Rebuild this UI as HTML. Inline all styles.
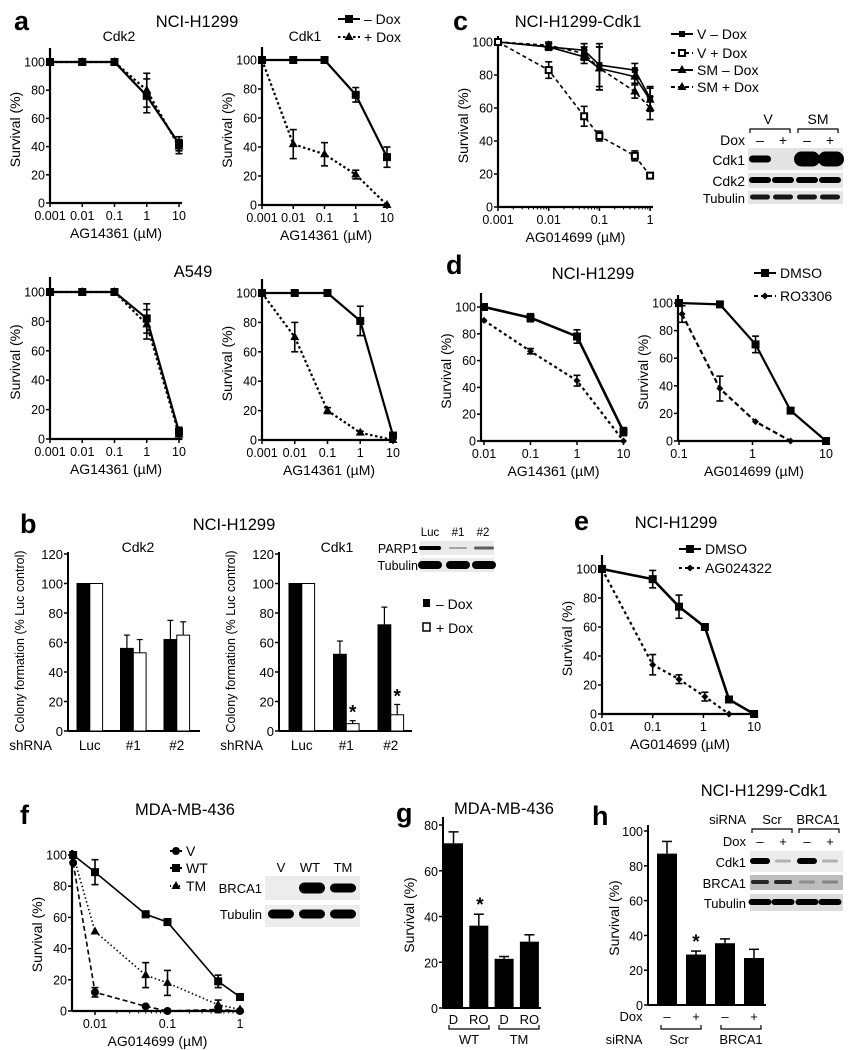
<!DOCTYPE html>
<html><head><meta charset="utf-8">
<style>
html,body{margin:0;padding:0;background:#fff;}
svg{display:block;font-family:"Liberation Sans",Arial,sans-serif;}
</style></head>
<body>
<svg id="fig" width="862" height="1050" viewBox="0 0 862 1050" xmlns="http://www.w3.org/2000/svg"></svg>
<script>
// ---------- DATA ----------
const aDoses=[0.001,0.01,0.1,1,10];
const aLogTicks=["0.001","0.01","0.1","1","10"];
const survTicks=[0,20,40,60,80,100];
const aCdk2Minus=[100,100,100,76,42];
const aCdk2Plus=[100,100,100,80,40];
const aCdk2Err=[0,0,0,12,5];
const aCdk1Minus=[100,100,100,76,33];
const aCdk1Plus=[100,42,35,21,0];
const aCdk1ErrM=[0,0,0,5,7];
const aCdk1ErrP=[0,10,8,3,0];
const a549Cdk2Minus=[100,100,100,82,5];
const a549Cdk2Plus=[100,100,100,78,3];
const a549Cdk2Err=[0,0,0,10,3];
const a549Cdk1Minus=[100,100,100,81,3];
const a549Cdk1Plus=[100,70,20,5,0];
const a549Cdk1ErrM=[0,0,0,10,2];
const a549Cdk1ErrP=[0,10,2,1,0];

const cDoses=[0.001,0.01,0.05,0.1,0.5,1];
const cTicks=["0.001","0.01","0.1","1"];
const cTickVals=[0.001,0.01,0.1,1];
const cVMinus=[100,97,95,86,83,66];
const cVPlus=[100,83,55,43,31,19];
const cSMMinus=[100,97,91,84,79,65];
const cSMPlus=[100,98,93,84,70,60];
const cErr=[0,2,4,13,4,7];
const cErrVP=[0,5,6,3,3,1];

const bCats=["Luc","#1","#2"];
const bTicks=[0,20,40,60,80,100,120];
const bCdk2Minus=[100,56,62];
const bCdk2Plus=[100,53,65];
const bCdk2ErrM=[0,9,13];
const bCdk2ErrP=[0,9,9];
const bCdk1Minus=[100,52,72];
const bCdk1Plus=[100,5,11];
const bCdk1ErrM=[0,9,12];
const bCdk1ErrP=[0,2,7];

const dLDoses=[0.01,0.1,1,10];
const dLDmso=[100,92,78,7];
const dLRo=[90,67,45,0];
const dLErrD=[0,3,5,3];
const dLErrR=[0,2,4,0];
const dLTicks=["0.01","0.1","1","10"];
const dLTickVals=[0.01,0.1,1,10];
const dRDmsoDoses=[0.1,0.36,1.1,3.3,10];
const dRDmso=[100,99,70,22,0];
const dRErrD=[0,0,6,2,0];
const dRRoDoses=[0.11,0.36,1.1,3.3];
const dRRo=[92,38,14,0];
const dRErrR=[6,9,0,0];
const dRTicks=["0.1","1","10"];
const dRTickVals=[0.1,1,10];

const eDmsoDoses=[0.01,0.1,0.33,1.07,3.2,10];
const eDmso=[100,93,74,60,10,0];
const eErrD=[0,6,8,0,0,0];
const eAgDoses=[0.01,0.1,0.33,1.07,3.2];
const eAg=[100,34,24,12,0];
const eErrA=[0,7,3,3,0];
const eTicks=["0.01","0.1","1","10"];
const eTickVals=[0.01,0.1,1,10];

const fDoses=[0.005,0.01,0.05,0.1,0.5,1];
const fV=[95,12,3,0,1,0];
const fWT=[100,89,62,57,19,9];
const fTM=[100,51,23,18,4,1];
const fErrV=[0,3,0,0,2,0];
const fErrWT=[0,8,2,2,4,0];
const fErrTM=[0,0,8,8,3,0];
const fTicks=["0.01","0.1","1"];
const fTickVals=[0.01,0.1,1];

const gCats=["D","RO","D","RO"];
const gVals=[72,36,21.5,29];
const gErr=[5,5,1,3];
const gTicks=[0,20,40,60,80];

const hVals=[87,29,35.5,27];
const hErr=[7,2,2.5,5];
const hDox=["–","+","–","+"];
const hTicks=[0,20,40,60,80,100];

// ---------- HELPERS ----------
const NS='http://www.w3.org/2000/svg';
const svg=document.getElementById('fig');
const TK=12.5, AT=14, TT=16.5, ST=14, PL=27;
function mk(tag,name,parent){
  const e=document.createElementNS(NS,tag);
  
  
  (parent||svg).appendChild(e);
  return e;
}
function set(e,o){for(const k in o)e.setAttribute(k,o[k]);return e;}
function txt(x,y,s,size,anchor,name,weight,rot){
  const t=mk('text',name);
  set(t,{x:x,y:y,'font-size':size,'text-anchor':anchor||'middle',fill:'#000'});
  if(weight)t.setAttribute('font-weight',weight);
  if(rot)t.setAttribute('transform','rotate(-90 '+x+' '+y+')');
  t.textContent=s;return t;
}
function line(x1,y1,x2,y2,name,w,dash){
  const l=mk('line',name);
  set(l,{x1:x1,y1:y1,x2:x2,y2:y2,stroke:'#000','stroke-width':w||1.5});
  if(dash)l.setAttribute('stroke-dasharray',dash);
  return l;
}
function marker(x,y,type,name){
  let m;
  if(type==='sq'){m=mk('rect',name);set(m,{x:x-4,y:y-4,width:8,height:8,fill:'#000'});}
  else if(type==='osq'){m=mk('rect',name);set(m,{x:x-3,y:y-3,width:6,height:6,fill:'#fff',stroke:'#000','stroke-width':2});}
  else if(type==='tri'){m=mk('polygon',name);set(m,{points:(x)+','+(y-5)+' '+(x-4.5)+','+(y+3)+' '+(x+4.5)+','+(y+3),fill:'#000'});}
  else if(type==='dia'){m=mk('polygon',name);set(m,{points:x+','+(y-3.5)+' '+(x+3.5)+','+y+' '+x+','+(y+3.5)+' '+(x-3.5)+','+y,fill:'#000'});}
  else if(type==='circ'){m=mk('circle',name);set(m,{cx:x,cy:y,r:4,fill:'#000'});}
  else if(type==='sm'){m=mk('rect',name);set(m,{x:x-3,y:y-3,width:6,height:6,fill:'#000'});}
  return m;
}
function logAxes(p,xv,xl,yv,ytitle,xtitle,minor){
  const sx=v=>p.px0+(Math.log10(v)-p.l0)*p.dec;
  const sy=v=>p.yb-v*(p.yb-p.y100)/100;
  line(p.ax,p.top,p.ax,p.yb,p.id+'-y-axis',2.2);
  line(p.ax,p.yb,p.xr,p.yb,p.id+'-x-axis',2.2);
  yv.forEach(v=>{line(p.ax-4,sy(v),p.ax,sy(v),p.id+'-y-tick',1.5);txt(p.ax-5,sy(v)+4.5,String(v),TK,'end',p.id+'-y-tick-label');});
  xv.forEach((v,i)=>{line(sx(v),p.yb,sx(v),p.yb+4,p.id+'-x-tick',1.5);txt(sx(v),p.yb+17,xl[i],TK,'middle',p.id+'-x-tick-label');});
  if(minor){
    for(let d=Math.floor(p.l0);d<Math.log10(xv[xv.length-1]);d++){
      for(let k=2;k<10;k++){const xx=sx(k*Math.pow(10,d));if(xx>p.ax&&xx<p.xr)line(xx,p.yb,xx,p.yb+2.5,p.id+'-x-minor-tick',1);}
    }
  }
  if(ytitle)txt(p.ax-30,(p.top+p.yb)/2+4,ytitle,AT,'middle',p.id+'-y-axis-title',null,true);
  if(xtitle)txt((p.ax+p.xr)/2,p.yb+35,xtitle,AT,'middle',p.id+'-x-axis-title');
  return {sx:sx,sy:sy};
}
function series(s,xs,ys,errs,mtype,dash,name,w){
  const pts=xs.map((x,i)=>s.sx(x)+','+s.sy(ys[i])).join(' ');
  const pl=mk('polyline',name+'-line');
  set(pl,{points:pts,fill:'none',stroke:'#000','stroke-width':w||2.2});
  if(dash)pl.setAttribute('stroke-dasharray',dash);
  xs.forEach((x,i)=>{
    const e=errs?errs[i]:0;
    if(e>0){const X=s.sx(x);line(X,s.sy(ys[i]+e),X,s.sy(ys[i]-e),name+'-error-bar',1.6);
      line(X-3.5,s.sy(ys[i]+e),X+3.5,s.sy(ys[i]+e),name+'-error-cap',1.6);
      line(X-3.5,s.sy(ys[i]-e),X+3.5,s.sy(ys[i]-e),name+'-error-cap',1.6);}
    marker(s.sx(x),s.sy(ys[i]),mtype,name+'-point');
  });
}
function legendEntry(x,y,len,mtype,dash,label,name){
  line(x,y,x+len,y,name+'-line',2,dash);
  marker(x+len/2,y,mtype,name+'-marker');
  txt(x+len+4,y+5,label,AT,'start',name+'-label');
}
function blot(x,y,w,h,bg,name){const r=mk('rect',name);set(r,{x:x,y:y,width:w,height:h,fill:bg});return r;}
function band(cx,cy,w,h,op,name){const r=mk('rect',name);set(r,{x:cx-w/2,y:cy-h/2,width:w,height:h,rx:h/2,ry:h/2,fill:'#000','fill-opacity':op});return r;}
function bracket(x1,x2,y,name){const p=mk('path',name);set(p,{d:'M'+x1+' '+(y+4)+' V'+y+' H'+x2+' V'+(y+4),fill:'none',stroke:'#000','stroke-width':1.2});}
function bracketUp(x1,x2,y,name){const p=mk('path',name);set(p,{d:'M'+x1+' '+(y-4)+' V'+y+' H'+x2+' V'+(y-4),fill:'none',stroke:'#000','stroke-width':1.2});}

// ---------- PANEL A ----------
txt(14,30,'a',PL,'start','panel-a-label','bold');
txt(197,27,'NCI-H1299',TT,'middle','panel-a-title');
txt(119,41,'Cdk2',ST,'middle','panel-a-cdk2-title');
txt(305,41,'Cdk1',ST,'middle','panel-a-cdk1-title');
legendEntry(338,19,22,'sq',null,'– Dox','legend-minus-dox');
legendEntry(338,37,22,'tri','2.5,2.5','+ Dox','legend-plus-dox');
let p,s;
p={id:'a-cdk2',px0:50,l0:-3,dec:32.25,yb:203,y100:62,top:48,ax:50,xr:182};
s=logAxes(p,aDoses,aLogTicks,survTicks,'Survival (%)','AG14361 (µM)');
series(s,aDoses,aCdk2Plus,aCdk2Err,'tri','2.5,2.5','a-cdk2-plus-dox');
series(s,aDoses,aCdk2Minus,aCdk2Err,'sq',null,'a-cdk2-minus-dox');
p={id:'a-cdk1',px0:262,l0:-3,dec:31.25,yb:205,y100:60,top:47,ax:262,xr:390};
s=logAxes(p,aDoses,aLogTicks,survTicks,'Survival (%)','AG14361 (µM)');
series(s,aDoses,aCdk1Plus,aCdk1ErrP,'tri','2.5,2.5','a-cdk1-plus-dox');
series(s,aDoses,aCdk1Minus,aCdk1ErrM,'sq',null,'a-cdk1-minus-dox');
txt(193,277,'A549',TT,'middle','panel-a-a549-title');
p={id:'a549-cdk2',px0:50,l0:-3,dec:32.25,yb:439,y100:292,top:277,ax:50,xr:182};
s=logAxes(p,aDoses,aLogTicks,survTicks,'Survival (%)','AG14361 (µM)');
series(s,aDoses,a549Cdk2Plus,a549Cdk2Err,'tri','2.5,2.5','a549-cdk2-plus-dox');
series(s,aDoses,a549Cdk2Minus,a549Cdk2Err,'sq',null,'a549-cdk2-minus-dox');
p={id:'a549-cdk1',px0:262,l0:-3,dec:32.75,yb:440,y100:293,top:279,ax:262,xr:396};
s=logAxes(p,aDoses,aLogTicks,survTicks,'Survival (%)','AG14361 (µM)');
series(s,aDoses,a549Cdk1Plus,a549Cdk1ErrP,'tri','2.5,2.5','a549-cdk1-plus-dox');
series(s,aDoses,a549Cdk1Minus,a549Cdk1ErrM,'sq',null,'a549-cdk1-minus-dox');

// ---------- PANEL C ----------
txt(453,30,'c',PL,'start','panel-c-label','bold');
txt(578,27,'NCI-H1299-Cdk1',TT,'middle','panel-c-title');
p={id:'c',px0:498,l0:-3,dec:50.7,yb:207,y100:42,top:36,ax:498,xr:653};
s=logAxes(p,cTickVals,cTicks,survTicks,'Survival (%)','AG014699 (µM)',true);
series(s,cDoses,cSMPlus,cErr,'tri','4,3','c-sm-plus-dox',1.6);
series(s,cDoses,cSMMinus,cErr,'tri',null,'c-sm-minus-dox',1.6);
series(s,cDoses,cVMinus,cErr,'sm',null,'c-v-minus-dox',1.6);
series(s,cDoses,cVPlus,cErrVP,'osq','4,3','c-v-plus-dox',1.6);
legendEntry(671,34,22,'sm',null,'V – Dox','legend-v-minus-dox');
legendEntry(671,53,22,'osq','4,3','V + Dox','legend-v-plus-dox');
legendEntry(671,70,22,'tri',null,'SM – Dox','legend-sm-minus-dox');
legendEntry(671,87,22,'tri','4,3','SM + Dox','legend-sm-plus-dox');
txt(768,124,'V',ST,'middle','c-blot-v-label');
txt(818,124,'SM',ST,'middle','c-blot-sm-label');
bracket(750,790,129,'c-blot-v-bracket');
bracket(798,838,129,'c-blot-sm-bracket');
txt(745,145,'Dox',ST,'end','c-blot-dox-label');
[760,783,807,830].forEach((x,i)=>txt(x,145,i%2?'+':'–',ST,'middle','c-blot-dox-sign'));
txt(745,165,'Cdk1',ST,'end','c-blot-cdk1-label');
txt(745,186,'Cdk2',ST,'end','c-blot-cdk2-label');
txt(745,203,'Tubulin',13,'end','c-blot-tubulin-label');
blot(748,148,95,22,'#e4e4e4','c-blot-cdk1');
blot(748,173,95,15,'#e4e4e4','c-blot-cdk2');
blot(748,191,95,13,'#e4e4e4','c-blot-tubulin');
band(760,159,22,7,1,'c-band');band(807,159,26,15,1,'c-band');band(831,159,26,15,1,'c-band');
[760,783,807,830].forEach(x=>band(x,180,22,6,1,'c-band'));
[760,783,807,830].forEach(x=>band(x,197,20,5,0.9,'c-band'));

// ---------- PANEL D ----------
txt(446,274,'d',PL,'start','panel-d-label','bold');
txt(593,279,'NCI-H1299',TT,'middle','panel-d-title');
legendEntry(754,273,22,'sq',null,'DMSO','legend-d-dmso');
legendEntry(754,296,22,'dia','4,3','RO3306','legend-d-ro3306');
p={id:'d-left',px0:484,l0:-2,dec:46.5,yb:441,y100:307,top:293,ax:481,xr:626};
s=logAxes(p,dLTickVals,dLTicks,survTicks,'Survival (%)','AG14361 (µM)');
series(s,dLDoses,dLRo,dLErrR,'dia','3,3','d-left-ro3306');
series(s,dLDoses,dLDmso,dLErrD,'sq',null,'d-left-dmso',2.6);
p={id:'d-right',px0:679,l0:-1,dec:73.5,yb:441,y100:303,top:295,ax:678,xr:830};
s=logAxes(p,dRTickVals,dRTicks,survTicks,'Survival (%)','AG014699 (µM)');
series(s,dRRoDoses,dRRo,dRErrR,'dia','5,3','d-right-ro3306');
series(s,dRDmsoDoses,dRDmso,dRErrD,'sq',null,'d-right-dmso');

// ---------- PANEL B ----------
txt(20,533,'b',PL,'start','panel-b-label','bold');
txt(234,530,'NCI-H1299',TT,'middle','panel-b-title');
txt(138,552,'Cdk2',ST,'middle','panel-b-cdk2-title');
txt(337,552,'Cdk1',ST,'middle','panel-b-cdk1-title');
function barPanel(id,ax,xr,yb,k,top,ticks,start,spacing,bw,minus,plus,em,ep,cats,stars){
  const sy=v=>yb-v*k;
  line(ax,top,ax,yb,id+'-y-axis',2);line(ax,yb,xr,yb,id+'-x-axis',2);
  ticks.forEach(v=>{line(ax-4,sy(v),ax,sy(v),id+'-y-tick',1.5);txt(ax-5,sy(v)+5,String(v),13,'end',id+'-y-tick-label');});
  cats.forEach((c,i)=>{
    const x=start+i*spacing;
    [[minus,em,'#000','minus-dox'],[plus,ep,'#fff','plus-dox']].forEach((d,j)=>{
      const bx=x+j*bw,v=d[0][i],e=d[1][i];
      if(e>0){line(bx+bw/2,sy(v),bx+bw/2,sy(v+e),id+'-error-bar',1.2);line(bx+bw/2-3,sy(v+e),bx+bw/2+3,sy(v+e),id+'-error-cap',1.2);}
      const r=mk('rect',id+'-bar-'+d[3]);set(r,{x:bx,y:sy(v),width:bw,height:v*k,fill:d[2],stroke:'#000','stroke-width':1});
    });
    txt(x+bw,yb+19,c,13.5,'middle',id+'-x-label');
    if(stars&&stars[i])txt(x+bw*1.5,sy(plus[i]+ep[i])-2,'*',19,'middle',id+'-significance-star','bold');
  });
  txt(ax-16,yb+19,'shRNA',13.5,'end',id+'-shrna-label');
  txt(ax-44,(top+yb)/2,'Colony formation (% Luc control)',12.5,'middle',id+'-y-axis-title',null,true);
}
barPanel('b-cdk2',68,200,731,1.475,552,bTicks,77,43.5,12.8,bCdk2Minus,bCdk2Plus,bCdk2ErrM,bCdk2ErrP,bCats,null);
barPanel('b-cdk1',279,412,731,1.475,552,bTicks,289,44.5,12.8,bCdk1Minus,bCdk1Plus,bCdk1ErrM,bCdk1ErrP,bCats,[0,1,1]);
txt(430,536,'Luc',11.5,'middle','b-blot-luc-label');txt(458,536,'#1',11.5,'middle','b-blot-1-label');txt(483,536,'#2',11.5,'middle','b-blot-2-label');
txt(418,553,'PARP1',12.5,'end','b-blot-parp1-label');txt(418,570,'Tubulin',12.5,'end','b-blot-tubulin-label');
blot(420,541,74,14,'#eaeaea','b-blot-parp1');blot(420,558,74,14,'#eaeaea','b-blot-tubulin');
band(430,548,22,4,1,'b-band');band(458,548,18,2,0.3,'b-band');band(484,548,20,3,0.6,'b-band');
band(430,565,24,8,1,'b-band');band(458,565,24,8,1,'b-band');band(484,565,24,8,1,'b-band');
const lb1=mk('rect','legend-b-minus-dox-swatch');set(lb1,{x:423,y:599,width:7,height:8,fill:'#000'});
txt(436,609,'– Dox',AT,'start','legend-b-minus-dox-label');
const lb2=mk('rect','legend-b-plus-dox-swatch');set(lb2,{x:423,y:623,width:7,height:8,fill:'#fff',stroke:'#000','stroke-width':1.5});
txt(436,633,'+ Dox',AT,'start','legend-b-plus-dox-label');

// ---------- PANEL E ----------
txt(574,530,'e',PL,'start','panel-e-label','bold');
txt(676,528,'NCI-H1299',TT,'middle','panel-e-title');
legendEntry(679,549,22,'sq',null,'DMSO','legend-e-dmso');
legendEntry(679,568,22,'dia','3,3','AG024322','legend-e-ag024322');
p={id:'e',px0:602,l0:-2,dec:50.7,yb:714,y100:569,top:555,ax:602,xr:758};
s=logAxes(p,eTickVals,eTicks,survTicks,'Survival (%)','AG014699 (µM)');
series(s,eAgDoses,eAg,eErrA,'dia','3,3','e-ag024322');
series(s,eDmsoDoses,eDmso,eErrD,'sq',null,'e-dmso',2.6);

// ---------- PANEL F ----------
txt(20,824,'f',PL,'start','panel-f-label','bold');
txt(185,815,'MDA-MB-436',TT,'middle','panel-f-title');
p={id:'f',px0:95,l0:-2,dec:72.5,yb:1011,y100:855,top:850,ax:72,xr:243};
s=logAxes(p,fTickVals,fTicks,survTicks,'Survival (%)','AG014699 (µM)',true);
series(s,fDoses,fTM,fErrTM,'tri','1.5,2.5','f-tm',1.6);
series(s,fDoses,fV,fErrV,'circ','5,3','f-v',1.6);
series(s,fDoses,fWT,fErrWT,'sq',null,'f-wt',1.6);
legendEntry(170,851,12,'circ','3,2','V','legend-f-v');
legendEntry(170,868,12,'sq',null,'WT','legend-f-wt');
legendEntry(170,886,12,'tri','1,2','TM','legend-f-tm');
txt(281,872,'V',13,'middle','f-blot-v-label');txt(310,872,'WT',13,'middle','f-blot-wt-label');txt(343,872,'TM',13,'middle','f-blot-tm-label');
txt(262,893,'BRCA1',13,'end','f-blot-brca1-label');txt(262,919,'Tubulin',13,'end','f-blot-tubulin-label');
blot(265,876,95,24,'#ececec','f-blot-brca1');blot(265,905,95,22,'#ececec','f-blot-tubulin');
band(312,888,26,11,1,'f-band');band(343,888,26,9,1,'f-band');
band(281,914,26,9,1,'f-band');band(312,914,26,9,1,'f-band');band(343,914,26,9,1,'f-band');

// ---------- PANEL G ----------
txt(396,822,'g',PL,'start','panel-g-label','bold');
txt(504,814,'MDA-MB-436',TT,'middle','panel-g-title');
(function(){
  const ax=443,yb=1008,k=2.2875;const sy=v=>yb-v*k;
  line(ax,825-8,ax,yb,'g-y-axis',2);line(ax,yb,541,yb,'g-x-axis',2);
  gTicks.forEach(v=>{line(ax-4,sy(v),ax,sy(v),'g-y-tick',1.5);txt(ax-5,sy(v)+5,String(v),TK,'end','g-y-tick-label');});
  txt(ax-29,915,'Survival (%)',AT,'middle','g-y-axis-title',null,true);
  gVals.forEach((v,i)=>{
    const x=444+i*25.3,w=19,e=gErr[i];
    line(x+w/2,sy(v),x+w/2,sy(v+e),'g-error-bar',1.5);line(x+w/2-5,sy(v+e),x+w/2+5,sy(v+e),'g-error-cap',1.5);
    const r=mk('rect','g-bar-'+i);set(r,{x:x,y:sy(v),width:w,height:v*k,fill:'#000'});
    txt(x+w/2,1024,gCats[i],13,'middle','g-x-label');
  });
  txt(480,sy(gVals[1]+gErr[1])-3,'*',19,'middle','g-significance-star','bold');
  bracketUp(449,489,1029,'g-wt-bracket');bracketUp(499,539,1029,'g-tm-bracket');
  txt(469,1044,'WT',13,'middle','g-wt-label');txt(519,1044,'TM',13,'middle','g-tm-label');
})();

// ---------- PANEL H ----------
txt(592,825,'h',PL,'start','panel-h-label','bold');
txt(764,796,'NCI-H1299-Cdk1',TT,'middle','panel-h-title');
(function(){
  const ax=648,yb=1005,k=1.74;const sy=v=>yb-v*k;
  line(ax,831-6,ax,yb,'h-y-axis',2);line(ax,yb,766,yb,'h-x-axis',2);
  hTicks.forEach(v=>{line(ax-4,sy(v),ax,sy(v),'h-y-tick',1.5);txt(ax-5,sy(v)+5,String(v),TK,'end','h-y-tick-label');});
  txt(ax-29,918,'Survival (%)',AT,'middle','h-y-axis-title',null,true);
  hVals.forEach((v,i)=>{
    const x=657+i*29,w=20,e=hErr[i];
    line(x+w/2,sy(v),x+w/2,sy(v+e),'h-error-bar',1.5);line(x+w/2-5,sy(v+e),x+w/2+5,sy(v+e),'h-error-cap',1.5);
    const r=mk('rect','h-bar-'+i);set(r,{x:x,y:sy(v),width:w,height:v*k,fill:'#000'});
    txt(x+w/2,1021,hDox[i],13,'middle','h-dox-sign');
  });
  txt(696,sy(hVals[1]+hErr[1])-3,'*',19,'middle','h-significance-star','bold');
  txt(631,1021,'Dox',13,'middle','h-dox-label');
  bracketUp(661,701,1029,'h-scr-bracket');bracketUp(721,761,1029,'h-brca1-bracket');
  txt(624,1044,'siRNA',13,'middle','h-sirna-label');txt(679,1044,'Scr',13,'middle','h-scr-label');txt(741,1044,'BRCA1',13,'middle','h-brca1-label');
})();
txt(746,824,'siRNA',13,'end','h-blot-sirna-label');txt(772,824,'Scr',13,'middle','h-blot-scr-label');txt(818,824,'BRCA1',13,'middle','h-blot-brca1-label');
bracket(752,792,829,'h-blot-scr-bracket');bracket(799,839,829,'h-blot-brca1-bracket');
txt(746,846,'Dox',13,'end','h-blot-dox-label');
[760,783,807,830].forEach((x,i)=>txt(x,846,i%2?'+':'–',13,'middle','h-blot-dox-sign'));
txt(746,867,'Cdk1',13,'end','h-blot-cdk1-label');txt(746,888,'BRCA1',13,'end','h-blot-brca1-row-label');txt(746,908,'Tubulin',13,'end','h-blot-tubulin-label');
blot(750,851,93,21,'#ececec','h-blot-cdk1');blot(750,875,93,15,'#bdbdbd','h-blot-brca1');blot(750,894,93,17,'#dcdcdc','h-blot-tubulin');
band(760,861,20,6,1,'h-band');band(783,861,16,3,0.25,'h-band');band(807,861,20,6,1,'h-band');band(830,861,16,3,0.25,'h-band');
band(760,882,18,4,0.8,'h-band');band(783,882,18,4,0.8,'h-band');band(807,882,16,3,0.25,'h-band');band(830,882,16,3,0.3,'h-band');
[760,783,807,830].forEach(x=>band(x,902,23,6,1,'h-band'));
</script>
</body></html>
